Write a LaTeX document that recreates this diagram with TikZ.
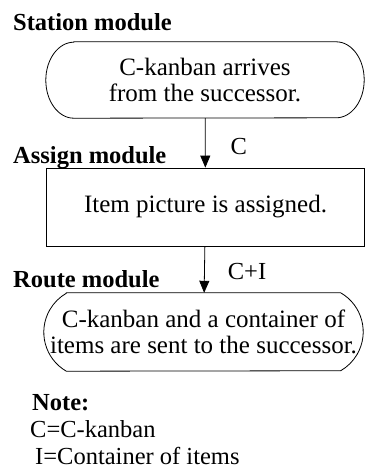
\documentclass[tikz,border=0pt]{standalone}
\usepackage{fontspec}
\setmainfont{Liberation Serif}
\usetikzlibrary{arrows.meta}

\begin{document}
\begin{tikzpicture}[x=1pt, y=-1pt,
      txt/.style={font=\fontsize{25}{26.5}\selectfont, align=center},
      hdr/.style={font=\fontsize{24.5}{26.5}\selectfont\bfseries,
                  anchor=base west, inner sep=0pt},
      lbl/.style={font=\fontsize{24.5}{26.5}\selectfont,
                  anchor=base west, inner sep=0pt},
      term/.style={txt, rectangle, minimum width=318pt, minimum height=76pt},
      proc/.style={txt, draw, line width=0.8pt, rectangle,
                   minimum width=318pt, minimum height=78pt},
      outline/.style={line width=0.8pt},
      flow/.style={line width=0.8pt, -{Triangle[width=10pt, length=12pt]}}
    ]
    \useasboundingbox (0,0) rectangle (365,475);

    %--- Station module ---
    \node[hdr] (stationhdr) at (13,30) {Station module};
    \node[term] (station) at (205,80) {C-kanban arrives\\from the successor.};
    \draw[outline] ([xshift=28pt]station.north west)
          -- ([xshift=-28pt]station.north east)
          arc[start angle=90, end angle=-90, x radius=28pt, y radius=38pt]
          -- ([xshift=28pt]station.south west)
          arc[start angle=-90, end angle=-270, x radius=28pt, y radius=38pt]
          -- cycle;

    %--- Assign module ---
    \node[hdr] (assignhdr) at (13,163) {Assign module};
    \node[proc] (assign) at (205.5,207) {Item picture is assigned.};

    %--- Route module ---
    \node[hdr] (routehdr) at (13,287) {Route module};
    \node[term, minimum width=319pt, minimum height=78pt] (route) at (203.5,332)
          {C-kanban and a container of\\items are sent to the successor.};
    \draw[outline] ([xshift=22.5pt]route.north west)
          -- ([xshift=-22.5pt]route.north east)
          arc[start angle=60, end angle=-60, radius=45pt]
          -- ([xshift=22.5pt]route.south west)
          arc[start angle=240, end angle=120, radius=45pt]
          -- cycle;

    %--- Flows ---
    \draw[flow] (station) -- (assign)
          node[lbl, pos=0.5, xshift=25pt, yshift=-12pt] (cflow) {C};
    \draw[flow] (assign) -- (route)
          node[lbl, pos=0.5, xshift=23pt, yshift=-10pt] (ciflow) {C+I};

    %--- Note ---
    \node[hdr] (note) at (32,410) {Note:};
    \node[lbl] (notec) at (30,437) {C=C-kanban};
    \node[lbl] (notei) at (35,464) {I=Container of items};
  \end{tikzpicture}
\end{document}
